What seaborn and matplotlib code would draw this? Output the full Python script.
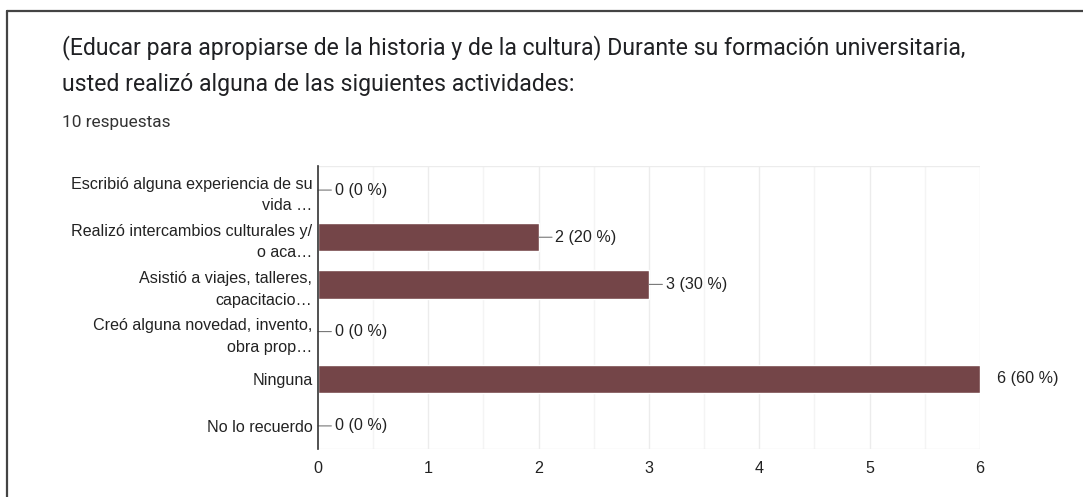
import numpy as np
import pandas as pd
import seaborn as sns
import matplotlib.pyplot as plt
from matplotlib.lines import Line2D

# Data
categories = [
    "Escribió alguna experiencia de su\nvida …",
    "Realizó intercambios culturales y/\no aca…",
    "Asistió a viajes, talleres,\ncapacitacio…",
    "Creó alguna novedad, invento,\nobra prop…",
    "Ninguna",
    "No lo recuerdo",
]
counts = [0, 2, 3, 0, 6, 0]
total = 10
x_ticks = [0, 1, 2, 3, 4, 5, 6]

df = pd.DataFrame({"category": categories, "count": counts})

sns.set_style("white")
plt.rcParams["font.family"] = ["Liberation Sans", "DejaVu Sans"]

fig = plt.figure(figsize=(10.83, 4.97), dpi=100)
ax = fig.add_axes([0.2936, 0.0956, 0.6113, 0.5694])

# gridlines (every half unit)
for v in np.arange(0.5, 6.01, 0.5):
    ax.axvline(v, color="#ececec" if v % 1 == 0 else "#f4f4f4", lw=1, zorder=0)
ax.axhline(-0.5, color="#ececec", lw=1, zorder=0)
ax.axhline(len(categories) - 0.5, color="#ececec", lw=1, zorder=0)

sns.barplot(data=df, y="category", x="count", orient="h", color="#744548",
            width=0.6, saturation=1, ax=ax, zorder=2)

fs = 11.6
ax.set_xlim(0, 6)
ax.set_ylim(len(categories) - 0.5, -0.5)
ax.set_xticks(x_ticks)
ax.set_xlabel("")
ax.set_ylabel("")
ax.tick_params(axis="both", length=0, labelsize=fs, colors="#222222")
ax.tick_params(axis="y", pad=4)
ax.tick_params(axis="x", pad=8)
for lab in ax.get_yticklabels():
    lab.set_linespacing(1.55)
for side in ["top", "right", "bottom"]:
    ax.spines[side].set_visible(False)
ax.spines["left"].set_color("#333333")
ax.spines["left"].set_linewidth(1.2)
ax.spines["left"].set_zorder(3)

# value labels with leader lines
for i, c in enumerate(counts):
    txt = f"{c} ({c * 100 // total} %)"
    if c < max(counts):
        ax.annotate(txt, xy=(c, i), xytext=(12, 0), textcoords="offset points",
                    va="center", ha="left", fontsize=fs, color="#222222",
                    arrowprops=dict(arrowstyle="-", color="#777777", lw=0.8,
                                    shrinkA=0, shrinkB=0))
    else:
        ax.annotate(txt, xy=(c, i), xytext=(12, 0), textcoords="offset points",
                    va="center", ha="left", fontsize=fs, color="#222222")

# card border (top and left edges)
fig.add_artist(Line2D([7 / 1083, 1], [1 - 11 / 497] * 2, color="#444444", lw=1.6))
fig.add_artist(Line2D([7 / 1083] * 2, [0, 1 - 11 / 497], color="#444444", lw=1.6))

fig.text(62 / 1083, 1 - 48 / 497,
         "(Educar para apropiarse de la historia y de la cultura) Durante su formación universitaria,",
         fontsize=16.6, family=["Roboto", "DejaVu Sans"], color="#202124", va="center")
fig.text(62 / 1083, 1 - 85 / 497,
         "usted realizó alguna de las siguientes actividades:",
         fontsize=16.6, family=["Roboto", "DejaVu Sans"], color="#202124", va="center")
fig.text(62 / 1083, 1 - 123 / 497, "10 respuestas",
         fontsize=12.4, family=["Roboto", "DejaVu Sans"], color="#333333", va="center")

fig.savefig("out.png", dpi=100)
